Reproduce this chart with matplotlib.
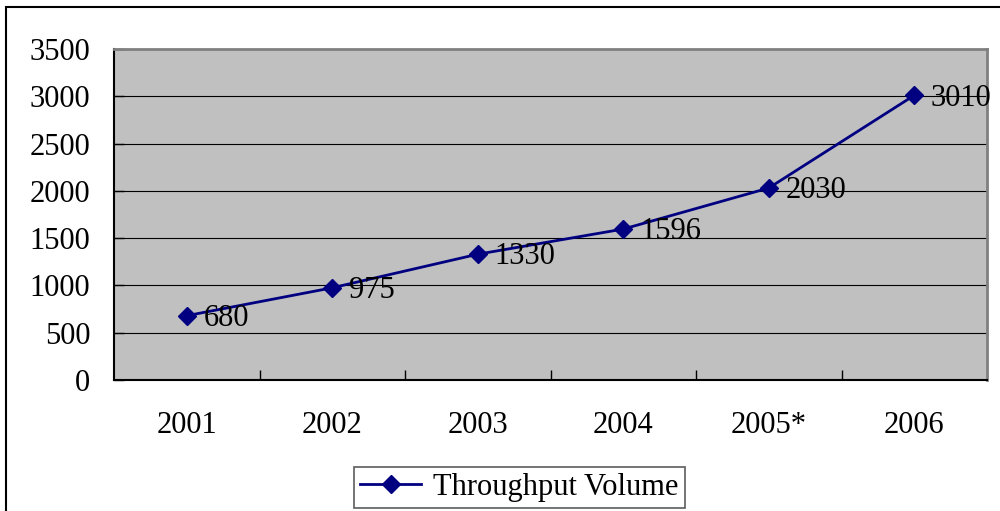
import matplotlib
matplotlib.use("Agg")
import matplotlib.pyplot as plt
from matplotlib.patches import Rectangle
import numpy as np

years = ["2001", "2002", "2003", "2004", "2005*", "2006"]
volume = [680, 975, 1330, 1596, 2030, 3010]
series_name = "Throughput Volume"
yticks = [0, 500, 1000, 1500, 2000, 2500, 3000, 3500]

plt.rcParams['font.family'] = ['Liberation Serif', 'DejaVu Serif']

fig = plt.figure(figsize=(10, 5.11), dpi=100)
fig.patch.set_facecolor('white')
# outer chart border
fig.add_artist(Rectangle((0.006, -0.05), 1.2, 0.05 + (511 - 7.5) / 511,
                         transform=fig.transFigure, fill=False,
                         edgecolor='black', linewidth=1.5))

ax = fig.add_axes([0.114, (511 - 380) / 511, 0.873, (380 - 49) / 511])
ax.set_facecolor('#C0C0C0')

x = np.arange(len(years))
line, = ax.plot(x, volume, color='#000080', linewidth=2, marker='D',
                markersize=9.5, markerfacecolor='#000080',
                markeredgecolor='#000080', label=series_name, zorder=3)

for xi, v in zip(x, volume):
    ax.annotate(str(v), (xi, v), xytext=(12, -2), textcoords='offset points',
                ha='left', va='center', fontsize=22, color='black', zorder=4,
                annotation_clip=False)

ax.set_xlim(-0.5, len(years) - 0.5)
ax.set_ylim(0, 3500)
ax.set_yticks(yticks)
ax.set_yticklabels([str(t) for t in yticks])
ax.yaxis.grid(True, color='black', linewidth=0.8)
ax.set_axisbelow(True)

ax.set_xticks(x)
ax.set_xticklabels(years)
ax.set_xticks(np.arange(0.5, len(years) - 0.5, 1.0), minor=True)
ax.tick_params(axis='x', which='major', length=0, pad=22, labelsize=22)
ax.tick_params(axis='x', which='minor', direction='in', length=7, width=1, color='black')
ax.tick_params(axis='y', which='major', direction='in', length=7, width=1,
               pad=17, labelsize=22, color='black')

for s in ['left', 'bottom']:
    ax.spines[s].set_color('black')
    ax.spines[s].set_linewidth(1.5)
for s in ['top', 'right']:
    ax.spines[s].set_color('#808080')
    ax.spines[s].set_linewidth(2)

leg = fig.legend(handles=[line], loc='lower left',
                 bbox_to_anchor=(0.354, 3 / 511), borderaxespad=0, fontsize=22,
                 frameon=True, fancybox=False, edgecolor='#333333',
                 handlelength=2.0, borderpad=0.2, handletextpad=0.4)
leg.get_frame().set_linewidth(1.2)

fig.savefig('out.png', dpi=100)
